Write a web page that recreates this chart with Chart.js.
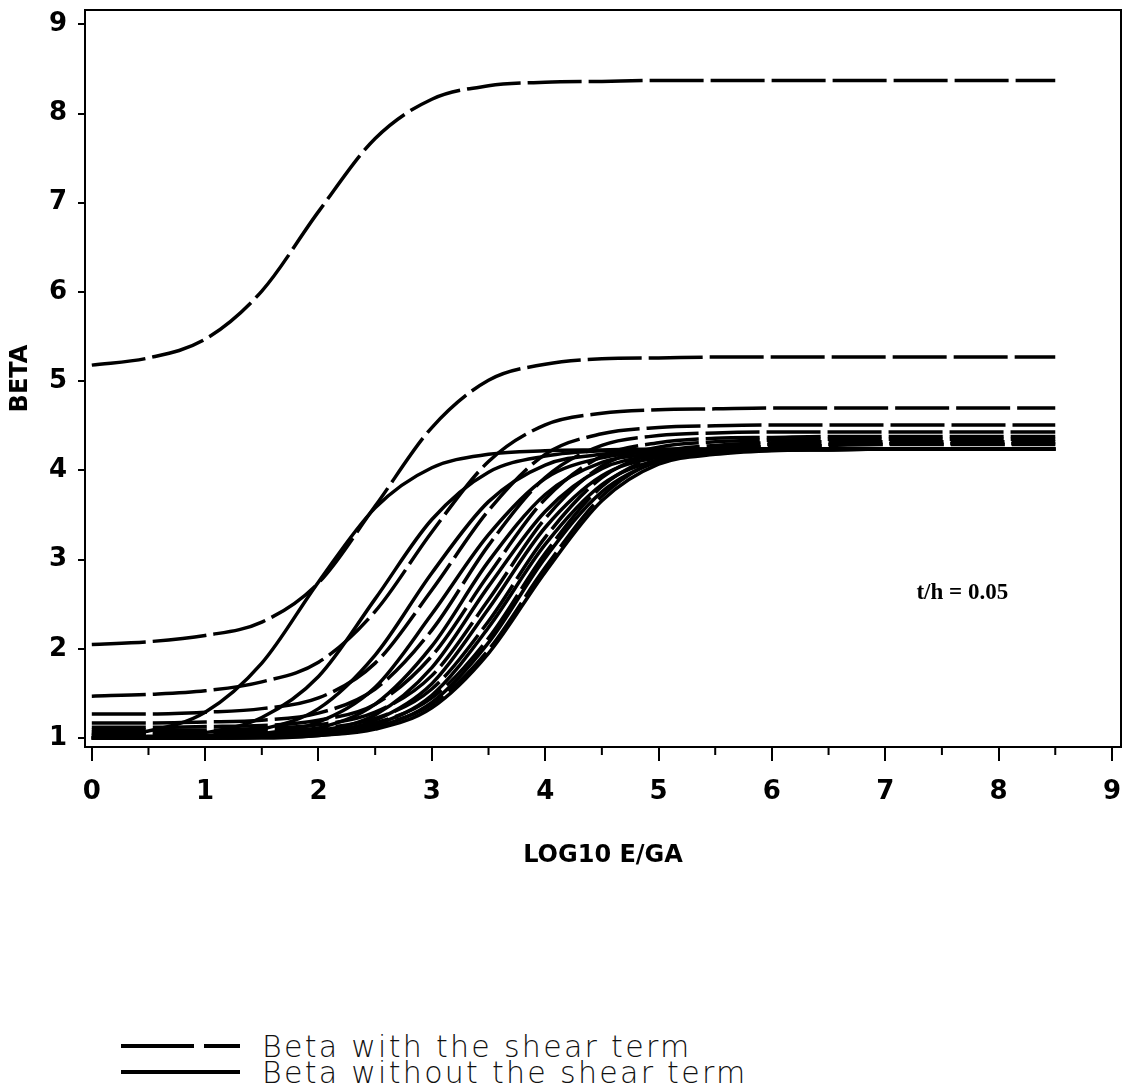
<!DOCTYPE html>
<html>
<head>
<meta charset="utf-8">
<title>Beta vs log10 E/GA</title>
<script src="https://cdn.jsdelivr.net/npm/chart.js@4.4.0/dist/chart.umd.min.js"></script>
<style>
  body { margin: 0; background: #fff; }
  #page { position: relative; width: 1126px; height: 1092px; overflow: hidden; }
  #plot { position: absolute; left: 0; top: 0; width: 1126px; height: 900px; }
  .keyline { position: absolute; left: 120px; }
  .keytext { position: absolute; left: 262px; font-family: "DejaVu Sans", sans-serif; font-weight: 200;
             font-size: 30px; line-height: 30px; letter-spacing: 2.3px; color: #111; white-space: nowrap; }
</style>
</head>
<body>
<div id="page">
  <div id="plot"><canvas id="beta_chart"></canvas></div>
  <svg class="keyline" style="top:1041px" width="125" height="10">
    <line x1="1" y1="5" x2="120" y2="5" stroke="#000" stroke-width="4" stroke-dasharray="73 10 37 20"/>
  </svg>
  <div class="keytext" style="top:1032px">Beta with the shear term</div>
  <svg class="keyline" style="top:1067px" width="125" height="10">
    <line x1="1" y1="5" x2="120" y2="5" stroke="#000" stroke-width="4"/>
  </svg>
  <div class="keytext" style="top:1058px">Beta without the shear term</div>
</div>
<script>
// x positions (log10 E/GA) where the curves were read
const logEGA = [0, 0.5, 1, 1.5, 2, 2.5, 3, 3.5, 4, 4.5, 5, 5.5, 6, 6.5, 7, 7.5, 8, 8.5];

// beta with the shear term (dashed), one row per curve
const betaShear = [
  [5.18, 5.26, 5.47, 6.01, 6.90, 7.72, 8.16, 8.31, 8.35, 8.36, 8.37, 8.37, 8.37, 8.37, 8.37, 8.37, 8.37, 8.37],
  [2.05, 2.08, 2.15, 2.30, 2.74, 3.60, 4.48, 5.01, 5.19, 5.25, 5.26, 5.27, 5.27, 5.27, 5.27, 5.27, 5.27, 5.27],
  [1.47, 1.49, 1.53, 1.63, 1.85, 2.42, 3.31, 4.10, 4.51, 4.64, 4.68, 4.69, 4.70, 4.70, 4.70, 4.70, 4.70, 4.70],
  [1.27, 1.27, 1.29, 1.33, 1.45, 1.84, 2.66, 3.55, 4.18, 4.41, 4.48, 4.50, 4.51, 4.51, 4.51, 4.51, 4.51, 4.51],
  [1.17, 1.17, 1.18, 1.20, 1.28, 1.55, 2.21, 3.16, 3.92, 4.28, 4.39, 4.42, 4.43, 4.43, 4.43, 4.43, 4.43, 4.43],
  [1.12, 1.12, 1.13, 1.14, 1.20, 1.38, 1.92, 2.83, 3.68, 4.16, 4.31, 4.36, 4.37, 4.38, 4.38, 4.38, 4.38, 4.38],
  [1.09, 1.09, 1.09, 1.11, 1.15, 1.29, 1.70, 2.55, 3.46, 4.05, 4.26, 4.32, 4.34, 4.35, 4.35, 4.35, 4.35, 4.35],
  [1.07, 1.07, 1.07, 1.08, 1.11, 1.22, 1.55, 2.31, 3.25, 3.92, 4.20, 4.28, 4.31, 4.32, 4.32, 4.32, 4.32, 4.32],
  [1.05, 1.05, 1.05, 1.06, 1.08, 1.17, 1.45, 2.12, 3.07, 3.82, 4.16, 4.25, 4.29, 4.29, 4.30, 4.30, 4.30, 4.30],
  [1.04, 1.04, 1.04, 1.04, 1.07, 1.14, 1.38, 1.99, 2.91, 3.71, 4.12, 4.23, 4.27, 4.28, 4.29, 4.29, 4.29, 4.29]
];

// beta without the shear term (solid)
const betaNoShear = [
  [1.03, 1.08, 1.29, 1.84, 2.75, 3.58, 4.03, 4.18, 4.22, 4.23, 4.24, 4.24, 4.24, 4.24, 4.24, 4.24, 4.24, 4.24],
  [1.01, 1.02, 1.06, 1.23, 1.69, 2.56, 3.45, 3.98, 4.16, 4.22, 4.23, 4.24, 4.24, 4.24, 4.24, 4.24, 4.24, 4.24],
  [1.00, 1.01, 1.03, 1.10, 1.33, 1.93, 2.85, 3.65, 4.06, 4.18, 4.22, 4.23, 4.24, 4.24, 4.24, 4.24, 4.24, 4.24],
  [1.00, 1.00, 1.01, 1.05, 1.18, 1.57, 2.39, 3.28, 3.91, 4.14, 4.21, 4.23, 4.24, 4.24, 4.24, 4.24, 4.24, 4.24],
  [1.00, 1.00, 1.01, 1.03, 1.11, 1.38, 2.03, 2.98, 3.73, 4.09, 4.19, 4.23, 4.24, 4.24, 4.24, 4.24, 4.24, 4.24],
  [1.00, 1.00, 1.01, 1.02, 1.08, 1.26, 1.79, 2.70, 3.54, 4.02, 4.17, 4.22, 4.23, 4.24, 4.24, 4.24, 4.24, 4.24],
  [1.00, 1.00, 1.00, 1.02, 1.06, 1.20, 1.61, 2.45, 3.36, 3.94, 4.15, 4.21, 4.23, 4.24, 4.24, 4.24, 4.24, 4.24],
  [1.00, 1.00, 1.00, 1.01, 1.04, 1.15, 1.48, 2.24, 3.17, 3.84, 4.12, 4.20, 4.23, 4.24, 4.24, 4.24, 4.24, 4.24],
  [1.00, 1.00, 1.00, 1.01, 1.03, 1.12, 1.40, 2.07, 3.02, 3.76, 4.10, 4.19, 4.23, 4.23, 4.24, 4.24, 4.24, 4.24],
  [1.00, 1.00, 1.00, 1.00, 1.03, 1.10, 1.34, 1.95, 2.86, 3.66, 4.07, 4.18, 4.22, 4.23, 4.24, 4.24, 4.24, 4.24]
];

const xTicks = [0, 1, 2, 3, 4, 5, 6, 7, 8, 9];
const xHalfTicks = [0.5, 1.5, 2.5, 3.5, 4.5, 5.5, 6.5, 7.5, 8.5];
const yTicks = [1, 2, 3, 4, 5, 6, 7, 8, 9];
const noteText = "t/h = 0.05";
const notePos = [7.68, 2.62];

function toPoints(row) {
  return logEGA.map((x, i) => ({ x: x, y: row[i] }));
}

const datasets = [];
betaShear.forEach((row) => {
  datasets.push({
    data: toPoints(row),
    borderColor: "#000",
    borderWidth: 3.5,
    borderDash: [54, 7],
    pointRadius: 0,
    fill: false,
    cubicInterpolationMode: "monotone",
  });
});
betaNoShear.forEach((row) => {
  datasets.push({
    data: toPoints(row),
    borderColor: "#000",
    borderWidth: 3.5,
    pointRadius: 0,
    fill: false,
    cubicInterpolationMode: "monotone",
  });
});

// box round the plot, half ticks on x and the t/h note
const extras = {
  id: "extras",
  afterDraw(chart) {
    const ctx = chart.ctx;
    const a = chart.chartArea;
    const xs = chart.scales.x, ys = chart.scales.y;
    ctx.save();
    ctx.strokeStyle = "#000";
    ctx.lineWidth = 2;
    ctx.strokeRect(a.left, a.top, a.right - a.left, a.bottom - a.top);
    ctx.beginPath();
    xHalfTicks.forEach((v) => {
      const px = xs.getPixelForValue(v);
      ctx.moveTo(px, a.bottom);
      ctx.lineTo(px, a.bottom + 8);
    });
    ctx.stroke();
    ctx.fillStyle = "#000";
    ctx.font = 'bold 23px "Liberation Serif"';
    ctx.textAlign = "center";
    ctx.textBaseline = "middle";
    ctx.fillText(noteText, xs.getPixelForValue(notePos[0]), ys.getPixelForValue(notePos[1]));
    ctx.restore();
  },
};

const tickFont = { family: "DejaVu Sans", weight: "bold", size: 26 };
const titleFont = { family: "DejaVu Sans", weight: "bold", size: 24 };

const ctx = document.getElementById("beta_chart").getContext("2d");
const my_chart = new Chart(ctx, {
  type: "line",
  data: { datasets: datasets },
  options: {
    responsive: true,
    maintainAspectRatio: false,
    animation: false,
    events: [],
    layout: { padding: { top: 10, right: 5, left: 0, bottom: 0 } },
    plugins: { legend: { display: false }, tooltip: { enabled: false } },
    scales: {
      x: {
        type: "linear",
        min: -0.06,
        max: 9.08,
        afterBuildTicks: (scale) => { scale.ticks = xTicks.map((v) => ({ value: v })); },
        afterFit: (scale) => { scale.height = 153; scale.paddingLeft = 0; scale.paddingRight = 0; },
        ticks: { color: "#000", font: tickFont, padding: 16, maxRotation: 0, autoSkip: false },
        grid: { drawOnChartArea: false, drawTicks: true, tickLength: 14, color: "#000", lineWidth: 2 },
        border: { display: true, color: "#000", width: 2 },
        title: { display: true, text: "LOG10 E/GA", color: "#000", font: titleFont, padding: { top: 0, bottom: 30 } },
      },
      y: {
        type: "linear",
        min: 0.9,
        max: 9.16,
        afterBuildTicks: (scale) => { scale.ticks = yTicks.map((v) => ({ value: v })); },
        afterFit: (scale) => { scale.width = 85; scale.paddingTop = 0; scale.paddingBottom = 0; },
        ticks: { color: "#000", font: tickFont, padding: 11 },
        grid: { drawOnChartArea: false, drawTicks: true, tickLength: 7, color: "#000", lineWidth: 2 },
        border: { display: true, color: "#000", width: 2 },
        title: { display: true, text: "BETA", color: "#000", font: titleFont, padding: { top: 6, bottom: 0 } },
      },
    },
  },
  plugins: [extras],
});
</script>
</body>
</html>
